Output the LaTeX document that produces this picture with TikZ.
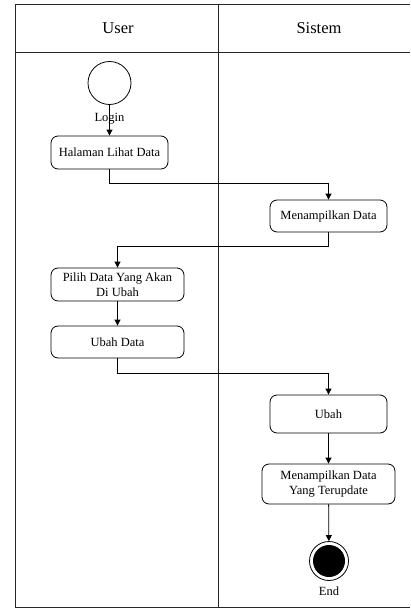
\documentclass[tikz,border=0pt]{standalone}
\usepackage{fontspec}
\setmainfont{Liberation Serif}
\usepackage{tikz}
\usetikzlibrary{shapes.geometric, arrows.meta, positioning}

\begin{document}
\begin{tikzpicture}[x=1pt, y=-1pt, font=\fontsize{12.5}{15}\selectfont]
			\tikzstyle{action} = [rectangle, rounded corners=7pt, minimum width=117pt, minimum height=33pt, text centered, align=center, draw=black, line width=0.8pt]
			\tikzstyle{arrow} = [line width=0.8pt, -{Triangle[length=6pt, width=6pt]}]
			\tikzstyle{lane} = [line width=0.9pt, draw=black!85]
			\tikzstyle{title} = [font=\fontsize{16.5}{18}\selectfont]

			\useasboundingbox (0,0) rectangle (410,610);

			% swimlanes
			\draw [lane] (410,4) -- (15.5,4) -- (15.5,607) -- (410,607);
			\draw [lane] (15.5,52) -- (410,52);
			\draw [lane] (218,4) -- (218,607);
			\node (user) [title] at (118,28) {User};
			\node (sistem) [title] at (319,28) {Sistem};

			\node (start) [circle, draw=black, line width=0.8pt, minimum size=43pt, inner sep=0pt] at (109.5,83) {};
			\node (halaman) [action] at (109.5,152.5) {Halaman Lihat Data};
			\node (tampil) [action, minimum height=32pt] at (328.5,216) {Menampilkan Data};
			\node (pilih) [action, minimum width=133pt] at (117.5,284.5) {Pilih Data Yang Akan\\Di Ubah};
			\node (ubahdata) [action, minimum width=133pt, minimum height=32pt] at (117.5,342) {Ubah Data};
			\node (ubah) [action, minimum height=38pt] at (328.5,414) {Ubah};
			\node (terupdate) [action, minimum width=133pt, minimum height=40pt] at (328.5,484) {Menampilkan Data\\Yang Terupdate};
			\node (end) [circle, draw=black, line width=0.8pt, minimum size=39pt, inner sep=0pt] at (329,561) {};
			\node (endfill) [circle, fill=black, minimum size=32pt, inner sep=0pt] at (end) {};
			\node (endlabel) [below=2pt of end] {End};

			\draw [arrow] (start) -- node [pos=0.45] {Login} (halaman);
			\draw [arrow] (halaman.south) -- ++(0,14) -| (tampil.north);
			\draw [arrow] (tampil.south) -- ++(0,14) -| (pilih.north);
			\draw [arrow] (pilih) -- (ubahdata);
			\draw [arrow] (ubahdata.south) -- ++(0,15) -| (ubah.north);
			\draw [arrow] (ubah) -- (terupdate);
			\draw [arrow] (terupdate) -- (end);

		\end{tikzpicture}
\end{document}
